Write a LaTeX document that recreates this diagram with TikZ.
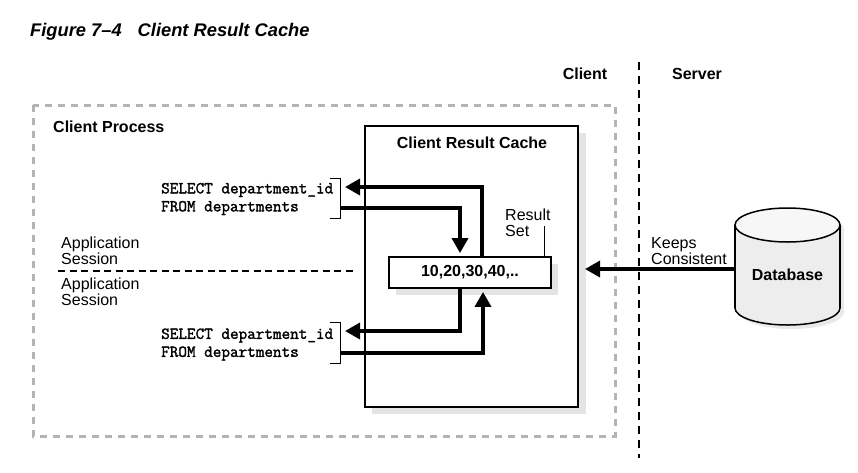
\documentclass[tikz,border=0pt]{standalone}
\usepackage{fontspec}
\setmainfont{Liberation Sans}
\newfontfamily\codefont[FakeBold=1.8]{Latin Modern Mono}
\usetikzlibrary{arrows.meta}
\definecolor{dashgray}{HTML}{B4B4B4}
\definecolor{shadowgray}{HTML}{E4E4E4}
\definecolor{dbbody}{HTML}{EDEDED}
\definecolor{dbtop}{HTML}{F7F7F7}
\begin{document}
\begin{tikzpicture}[x=1pt,y=-1pt,
  lbl/.style={inner sep=0pt, align=left, font=\fontsize{16}{16}\selectfont},
  blbl/.style={inner sep=0pt, align=center, font=\fontsize{16}{16}\selectfont\bfseries},
  code/.style={inner sep=0pt, align=left, font=\fontsize{16.7}{18}\selectfont\codefont},
  flow/.style={line width=3.5pt, -{Triangle[length=15pt,width=16pt]}},
  thinline/.style={line width=1pt},
  graydash/.style={draw=dashgray, line width=3pt, dash pattern=on 7pt off 6pt},
  blackdash/.style={draw=black, line width=1.8pt, dash pattern=on 8pt off 6pt},
  sessiondash/.style={draw=black, line width=1.5pt, dash pattern=on 7pt off 4.5pt},
  boxed/.style={draw=black, line width=2pt, fill=white, inner sep=0pt},
]
\useasboundingbox (0,0) rectangle (858,472);

% title
\node[anchor=west, inner sep=0pt, font=\fontsize{18.3}{18}\selectfont\bfseries\itshape] (title) at (30,32) {Figure 7--4\hspace{16pt}Client Result Cache};

% client / server
\node[blbl] (client) at (585,74) {Client};
\node[blbl] (server) at (697,74) {Server};
\coordinate (divtop) at (639,62);
\coordinate (divbot) at (639,458);
\draw[blackdash] (divtop) -- (divbot);

% client process
\draw[graydash] (33,105) rectangle (615,436);
\node[blbl, anchor=west] (cp) at (53,127) {Client Process};

% client result cache box
\fill[shadowgray] (372,133) rectangle (586,414);
\node[boxed, minimum width=213pt, minimum height=281pt] (cache) at (471.5,266.5) {};
\node[blbl] (cachelbl) at (472,143) {Client Result Cache};

% result set box
\fill[shadowgray] (396,264) rectangle (558,295);
\node[boxed, line width=1.8pt, minimum width=162pt, minimum height=31pt, font=\fontsize{16}{16}\selectfont\bfseries] (rs) at (470,272.5) {10,20,30,40,..};
\node[lbl, anchor=west] (rslbl) at (505,223) {Result\\Set};
\coordinate (rsl) at (544,226);
\draw[line width=0.8pt] (rsl) -- (rs.north -| rsl);

% sessions
\node[lbl, anchor=west] (app1) at (61,250.5) {Application\\Session};
\node[lbl, anchor=west] (app2) at (61,292) {Application\\Session};
\coordinate (sd1) at (58,271);
\coordinate (sd2) at (355,271);
\draw[sessiondash] (sd1) -- (sd2);

% SQL texts
\node[code, anchor=west] (sel1) at (161,199) {SELECT department\_id\\FROM departments};
\node[code, anchor=west] (sel2) at (161,344.5) {SELECT department\_id\\FROM departments};
\draw[thinline] (330,178) -- (340,178) -- (340,218) -- (330,218);
\draw[thinline] (330,322) -- (340,322) -- (340,363) -- (330,363);

% flows
\coordinate (c1) at (482,187);
\coordinate (t1) at (345,187);
\draw[flow] (rs.north -| c1) -- (c1) -- (t1);
\coordinate (s2) at (340,208);
\coordinate (c2) at (460,208);
\draw[flow, shorten >=3pt] (s2) -- (c2) -- (rs.north -| c2);
\coordinate (c3) at (460,331);
\coordinate (t3) at (345,331);
\draw[flow] (rs.south -| c3) -- (c3) -- (t3);
\coordinate (s4) at (340,353);
\coordinate (c4) at (483,353);
\draw[flow, shorten >=3pt] (s4) -- (c4) -- (rs.south -| c4);

% database cylinder
\begin{scope}[shift={(4,4)}]
  \fill[shadowgray!80!black!30] (735,225) rectangle (840,308);
  \fill[shadowgray!80!black!30] (787.5,308) ellipse [x radius=52.5, y radius=17];
  \fill[shadowgray!80!black!30] (787.5,225) ellipse [x radius=52.5, y radius=17];
\end{scope}
\fill[dbbody] (735,225) rectangle (840,308);
\fill[dbbody] (787.5,308) ellipse [x radius=52.5, y radius=17];
\draw[line width=1.5pt] (735,225) -- (735,308);
\draw[line width=1.5pt] (840,225) -- (840,308);
\begin{scope}
  \clip (725,308) rectangle (850,335);
  \draw[line width=1.5pt] (787.5,308) ellipse [x radius=52.5, y radius=17];
\end{scope}
\draw[line width=1.5pt, fill=dbtop] (787.5,225) ellipse [x radius=52.5, y radius=17];
\node[blbl, minimum width=105pt, minimum height=117pt] (db) at (787.5,266.5) {};
\node[blbl] (dblbl) at (787.5,275) {Database};

% keeps consistent
\coordinate (kt) at (585,269);
\draw[flow] (db.west |- kt) -- (kt);
\node[lbl, anchor=west] (keeps) at (651,251.5) {Keeps\\Consistent};
\end{tikzpicture}
\end{document}
